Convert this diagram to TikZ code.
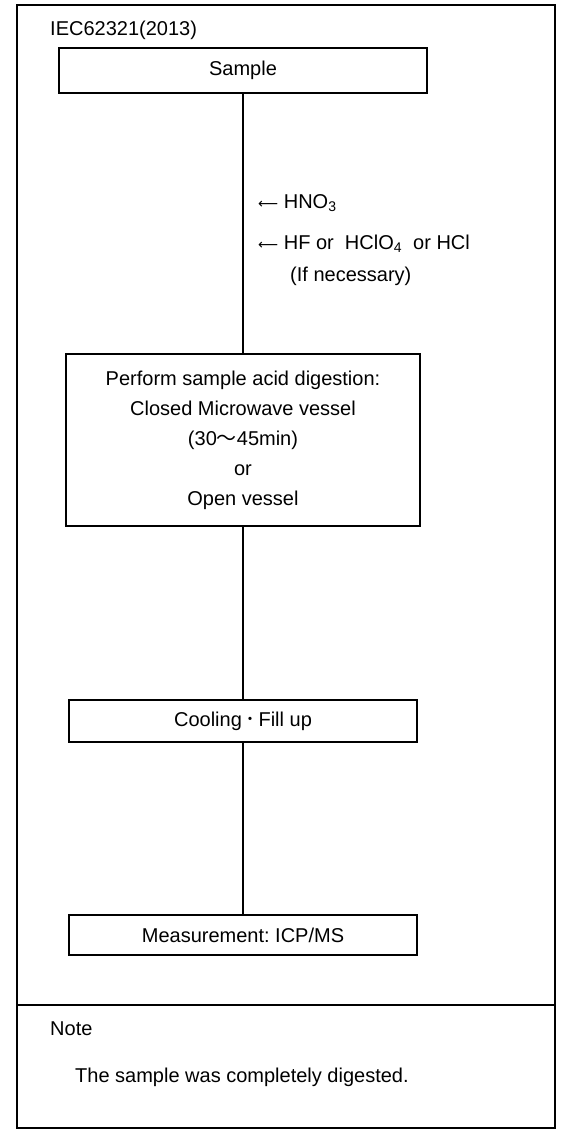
\documentclass[tikz,border=0pt]{standalone}
\usepackage{fontspec}
\setmainfont{Liberation Sans}
\newfontfamily\cjkf{Noto Sans CJK JP}
\newfontfamily\arrf{DejaVu Sans}
\begin{document}
\begin{tikzpicture}[x=1pt,y=-1pt,
  every node/.style={font=\fontsize{20}{30}\selectfont, inner sep=0pt},
  box/.style={draw, line width=1.4pt, align=center},
  conn/.style={line width=1.4pt},
  frame/.style={line width=1.2pt},
  lbl/.style={anchor=west}]
\useasboundingbox (0,0) rectangle (564,1134);
\draw[frame] (17,5) rectangle (555,1128);
\draw[frame] (17,1005) -- (555,1005);
\node[lbl] (title) at (50,30) {IEC62321(2013)};
\node[box, minimum width=368, minimum height=45] (sample) at (243,70.5) {Sample};
\node[box, minimum width=354, minimum height=172] (dig) at (243,440) {Perform sample acid digestion:\\Closed Microwave vessel\\(30{\cjkf ～}45min)\\or\\Open vessel};
\node[box, minimum width=348, minimum height=42] (cool) at (243,721) {Cooling\,{\cjkf ･}\,Fill up};
\node[box, minimum width=348, minimum height=40] (meas) at (243,935) {Measurement:\ ICP/MS};
\draw[conn] (sample.south) -- (dig.north);
\draw[conn] (dig.south) -- (cool.north);
\draw[conn] (cool.south) -- (meas.north);
\node[lbl] (a1) at (258,203) {{\arrf\fontsize{14}{14}\selectfont ⟵}\ HNO\textsubscript{3}};
\node[lbl] (a2) at (258,244) {{\arrf\fontsize{14}{14}\selectfont ⟵}\ HF or\ \ HClO\textsubscript{4}\ \ or HCl};
\node[lbl] (a3) at (290,276) {(If necessary)};
\node[lbl] (note) at (50,1029) {Note};
\node[lbl] (notetext) at (75,1077) {The sample was completely digested.};
\end{tikzpicture}
\end{document}
